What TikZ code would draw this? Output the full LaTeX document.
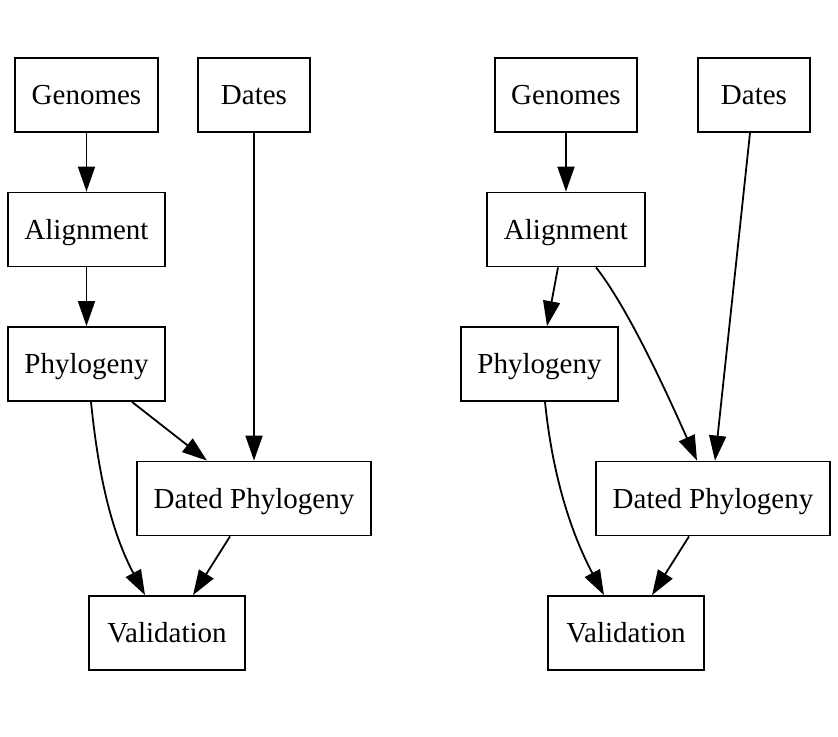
\documentclass[tikz,border=0pt]{standalone}
\usepackage{fontspec}
\setmainfont{Liberation Serif}
\usetikzlibrary{arrows.meta}
\begin{document}
\begin{tikzpicture}[x=1bp,y=-1bp,
  box/.style={draw,line width=1.8bp,rectangle,inner sep=0pt,font=\fontsize{29bp}{32bp}\selectfont,minimum height=74bp,text height=19bp,text depth=0pt},
  edge/.style={line width=1.8bp,-{Triangle[length=25bp,width=17bp]}}]
\useasboundingbox (0,0) rectangle (838,737);
% left graph
\node[box,minimum width=143bp] (gen) at (86.5,95) {Genomes};
\node[box,minimum width=112bp] (dat) at (254,95) {Dates};
\node[box,minimum width=157bp] (ali) at (86.5,229.5) {Alignment};
\node[box,minimum width=157bp] (phy) at (86.5,364) {Phylogeny};
\node[box,minimum width=234bp] (dphy) at (254,498.5) {Dated Phylogeny};
\node[box,minimum width=156bp] (val) at (167,633) {Validation};
\draw[edge] (gen.south) -- (ali.north);
\draw[edge] (ali.south) -- (phy.north);
\draw[edge] (dat.south) -- (dphy.north);
\draw[edge] ([xshift=45.5bp]phy.south) -- ([xshift=-47bp]dphy.north);
\draw[edge] ([xshift=4.5bp]phy.south) .. controls +(7,69) and +(-35,-66) .. ([xshift=-22bp]val.north);
\draw[edge] ([xshift=-24bp]dphy.south) -- ([xshift=26bp]val.north);
% right graph
\node[box,minimum width=142bp] (gen2) at (566,95) {Genomes};
\node[box,minimum width=112bp] (dat2) at (754,95) {Dates};
\node[box,minimum width=158bp] (ali2) at (566,229.5) {Alignment};
\node[box,minimum width=157bp] (phy2) at (539.5,364) {Phylogeny};
\node[box,minimum width=234bp] (dphy2) at (713,498.5) {Dated Phylogeny};
\node[box,minimum width=156bp] (val2) at (626,633) {Validation};
\draw[edge] (gen2.south) -- (ali2.north);
\draw[edge] ([xshift=-8bp]ali2.south) -- ([xshift=7.5bp]phy2.north);
\draw[edge] ([xshift=30bp]ali2.south) .. controls +(34,43) and +(-25,-56) .. ([xshift=-16bp]dphy2.north);
\draw[edge] ([xshift=-4bp]dat2.south) -- ([xshift=2bp]dphy2.north);
\draw[edge] ([xshift=5.5bp]phy2.south) .. controls +(7,69) and +(-35,-66) .. ([xshift=-22bp]val2.north);
\draw[edge] ([xshift=-24bp]dphy2.south) -- ([xshift=26bp]val2.north);
\end{tikzpicture}
\end{document}
